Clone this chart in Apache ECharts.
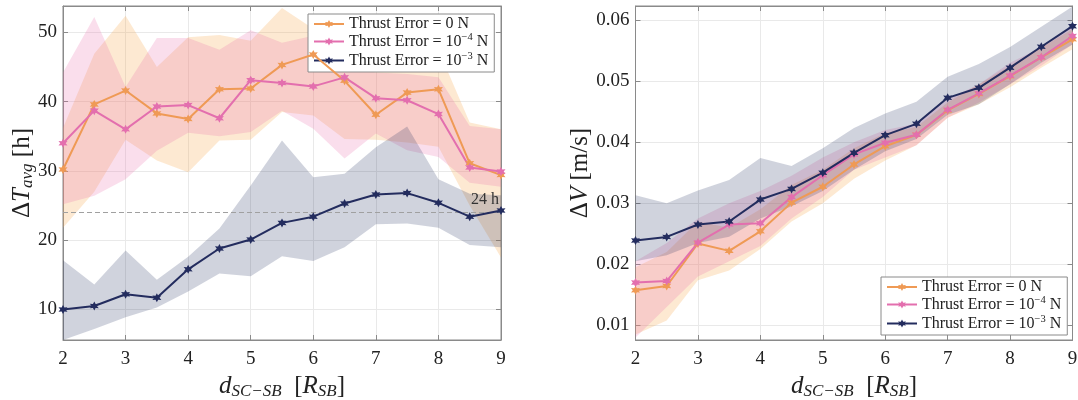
<!DOCTYPE html>
<html>
<head>
<meta charset="utf-8">
<script src="https://cdn.jsdelivr.net/npm/echarts@6/dist/echarts.min.js"></script>
<style>
html,body{margin:0;padding:0;background:#fff;}
#c{width:1078px;height:400px;}
</style>
</head>
<body>
<div id="c"></div>
<script>
// ---------- data ----------
const xs = [2, 2.5, 3, 3.5, 4, 4.5, 5, 5.5, 6, 6.5, 7, 7.5, 8, 8.5, 9];
const seriesNames = ['Thrust Error = 0 N', 'Thrust Error = 1e-4 N', 'Thrust Error = 1e-3 N'];

// Left: Delta T_avg [h]
const dT_0   = [30.2, 39.6, 41.6, 38.3, 37.5, 41.8, 41.9, 45.3, 46.8, 43.0, 38.1, 41.3, 41.8, 31.1, 29.4];
const dT_e4  = [34.0, 38.7, 36.0, 39.3, 39.5, 37.6, 43.1, 42.7, 42.2, 43.5, 40.5, 40.2, 38.2, 30.5, 29.9];
const dT_e3  = [10.0, 10.5, 12.2, 11.7, 15.8, 18.8, 20.1, 22.5, 23.4, 25.3, 26.6, 26.8, 25.4, 23.4, 24.3];
const dT_0_up  = [36.2, 46.9, 52.4, 45.0, 49.3, 49.6, 48.8, 53.5, 50.5, 50.0, 49.0, 48.0, 47.5, 37.0, 36.0];
const dT_0_lo  = [21.8, 27.0, 34.5, 31.5, 29.8, 34.4, 34.5, 38.5, 38.0, 34.6, 34.5, 34.1, 33.5, 25.0, 17.5];
const dT_e4_up = [44.2, 52.2, 42.1, 49.2, 49.2, 47.5, 50.3, 48.5, 49.5, 45.0, 44.2, 44.0, 43.5, 36.5, 36.0];
const dT_e4_lo = [25.2, 26.4, 28.8, 32.9, 35.5, 35.0, 35.6, 38.7, 36.1, 31.8, 35.4, 33.0, 32.0, 28.3, 27.7];
const dT_e3_up = [17.1, 13.6, 18.5, 14.3, 17.6, 21.7, 27.9, 34.4, 29.1, 29.6, 33.4, 36.4, 28.8, 26.7, 26.5];
const dT_e3_lo = [5.6, 7.2, 8.9, 10.3, 12.6, 15.2, 14.8, 17.7, 17.0, 19.0, 22.3, 22.4, 21.8, 19.3, 19.0];
const refLine = 24;

// Right: Delta V [m/s]
const dV_0   = [0.01574, 0.01644, 0.0234, 0.0222, 0.0254, 0.0301, 0.0327, 0.03635, 0.03934, 0.0412, 0.0452, 0.0479, 0.0508, 0.0539, 0.05684];
const dV_e4  = [0.0170, 0.01726, 0.02356, 0.0265, 0.02672, 0.0310, 0.03459, 0.0380, 0.0399, 0.0412, 0.0453, 0.0480, 0.0509, 0.0539, 0.05738];
const dV_e3  = [0.02389, 0.02448, 0.02651, 0.0270, 0.0306, 0.03235, 0.0350, 0.03825, 0.04115, 0.0430, 0.04726, 0.0489, 0.0522, 0.05563, 0.0590];
const dV_0_up  = [0.0195, 0.0220, 0.0270, 0.0260, 0.0290, 0.0330, 0.0355, 0.0390, 0.0415, 0.0425, 0.0465, 0.0495, 0.0525, 0.0555, 0.0585];
const dV_0_lo  = [0.0085, 0.0108, 0.0174, 0.0190, 0.0225, 0.0270, 0.0300, 0.0340, 0.0370, 0.0395, 0.0440, 0.0462, 0.0490, 0.0522, 0.0552];
const dV_e4_up = [0.0205, 0.0235, 0.0275, 0.0300, 0.0320, 0.0345, 0.0375, 0.0400, 0.0420, 0.0430, 0.0470, 0.0495, 0.0530, 0.0555, 0.0590];
const dV_e4_lo = [0.0080, 0.0130, 0.0180, 0.0205, 0.0230, 0.0275, 0.0310, 0.0355, 0.0375, 0.0395, 0.0440, 0.0465, 0.0495, 0.0525, 0.0560];
const dV_e3_up = [0.0313, 0.0300, 0.0321, 0.0338, 0.0374, 0.0361, 0.0390, 0.0423, 0.0447, 0.0466, 0.0507, 0.0528, 0.0556, 0.0589, 0.0622];
const dV_e3_lo = [0.0205, 0.0215, 0.0235, 0.0245, 0.0275, 0.0295, 0.0320, 0.0355, 0.0385, 0.0405, 0.0445, 0.0462, 0.0495, 0.0530, 0.0560];

const xTicks = [2, 3, 4, 5, 6, 7, 8, 9];
const yTicksL = [10, 20, 30, 40, 50];
const yTicksR = [0.01, 0.02, 0.03, 0.04, 0.05, 0.06];

// ---------- style ----------
const FONT = 'Liberation Serif';
const lineColors = ['#ef9a55', '#e36fae', '#232c5e'];
const bandColors = ['rgba(247,170,80,0.26)', 'rgba(230,105,170,0.22)', 'rgba(35,45,95,0.21)'];
const AX = '#8a8a8a';
const star = 'path://M0,-10 L2.6,-4.5 L8.7,-5 L5.2,0 L8.7,5 L2.6,4.5 L0,10 L-2.6,4.5 L-8.7,5 L-5.2,0 L-8.7,-5 L-2.6,-4.5 Z';

const pairs = (ys) => xs.map((x, i) => [x, ys[i]]);

function bandSeries(ax, up, lo, k) {
  return {
    type: 'custom', xAxisIndex: ax, yAxisIndex: ax, silent: true, z: 1, clip: true,
    data: xs.map((x, i) => [x, lo[i], up[i]]),
    encode: { x: 0, y: [1, 2] },
    renderItem: function (params, api) {
      if (params.dataIndex !== 0) return null;
      const pts = [];
      for (let i = 0; i < xs.length; i++) pts.push(api.coord([xs[i], up[i]]));
      for (let i = xs.length - 1; i >= 0; i--) pts.push(api.coord([xs[i], lo[i]]));
      return { type: 'polygon', shape: { points: pts }, style: { fill: bandColors[k] } };
    }
  };
}
function meanSeries(ax, ys, k, extra) {
  return Object.assign({
    name: seriesNames[k] + (ax === 2 ? ' ' : ''), type: 'line', xAxisIndex: ax, yAxisIndex: ax, data: pairs(ys),
    symbol: star, symbolSize: 9, showSymbol: true,
    lineStyle: { color: lineColors[k], width: 2 }, itemStyle: { color: lineColors[k] }, z: 5
  }, extra || {});
}

const rich = {
  n: { fontFamily: FONT, fontSize: 25, lineHeight: 30, color: '#222' },
  i: { fontFamily: FONT, fontSize: 25, lineHeight: 30, fontStyle: 'italic', color: '#222' },
  s: { fontFamily: FONT, fontSize: 17, lineHeight: 18, fontStyle: 'italic', color: '#222', padding: [12, 0, 0, 0] }
};
const legRich = {
  t: { fontFamily: FONT, fontSize: 16, color: '#222', lineHeight: 17.5 },
  p: { fontFamily: FONT, fontSize: 10.5, color: '#222', lineHeight: 11, padding: [0, 0, 8, 0] }
};
const legendFmt = (name) => {
  if (name === seriesNames[1]) return '{t|Thrust Error = 10}{p|−4}{t| N}';
  if (name === seriesNames[2]) return '{t|Thrust Error = 10}{p|−3}{t| N}';
  return '{t|Thrust Error = 0 N}';
};

function xAxes(gi) {
  return [
    { type: 'value', gridIndex: gi, min: 2, max: 9, interval: 1,
      name: '{i|d}{s|SC−SB}{n|  [}{i|R}{s|SB}{n|]}', nameLocation: 'middle', nameGap: 31, nameMoveOverlap: false,
      nameTextStyle: { rich: rich },
      axisLine: { show: true, lineStyle: { color: AX, width: 1 } },
      axisTick: { show: true, inside: true, length: 5, lineStyle: { color: AX } },
      axisLabel: { fontFamily: FONT, fontSize: 19, color: '#222', margin: 10 },
      splitLine: { show: true, lineStyle: { color: '#e9e9e9', width: 1 } } },
    { type: 'value', gridIndex: gi, position: 'top', min: 2, max: 9, interval: 1,
      axisLine: { show: true, lineStyle: { color: AX, width: 1 } },
      axisTick: { show: true, inside: true, length: 5, lineStyle: { color: AX } },
      axisLabel: { show: false }, splitLine: { show: false } }
  ];
}
function yAxes(gi, mn, mx, ticks, nm, fmt, gap) {
  return [
    { type: 'value', gridIndex: gi, min: mn, max: mx, position: 'left',
      name: nm, nameLocation: 'middle', nameRotate: 90, nameGap: gap, nameMoveOverlap: false,
      nameTextStyle: { rich: rich },
      axisLine: { show: true, lineStyle: { color: AX, width: 1 } },
      axisTick: { show: true, inside: true, length: 5, customValues: ticks, lineStyle: { color: AX } },
      axisLabel: { fontFamily: FONT, fontSize: 19, color: '#222', margin: 6, customValues: ticks, formatter: fmt },
      splitLine: { show: true, lineStyle: { color: '#e9e9e9', width: 1 } } },
    { type: 'value', gridIndex: gi, min: mn, max: mx, position: 'right',
      axisLine: { show: true, lineStyle: { color: AX, width: 1 } },
      axisTick: { show: true, inside: true, length: 5, customValues: ticks, lineStyle: { color: AX } },
      axisLabel: { show: false, customValues: ticks }, splitLine: { show: false } }
  ];
}

const xa = xAxes(0).concat(xAxes(1));
const ya = yAxes(0, 5.6, 53.8, yTicksL, '{n|Δ}{i|T}{s|avg}{n| [h]}', (v) => String(v), 26)
  .concat(yAxes(1, 0.0076, 0.0623, yTicksR, '{n|Δ}{i|V}{n| [m/s]}', (v) => v.toFixed(2), 40));

const series = [
  bandSeries(0, dT_0_up, dT_0_lo, 0),
  bandSeries(0, dT_e4_up, dT_e4_lo, 1),
  bandSeries(0, dT_e3_up, dT_e3_lo, 2),
  meanSeries(0, dT_0, 0),
  meanSeries(0, dT_e4, 1),
  meanSeries(0, dT_e3, 2, {
    markLine: { silent: true, symbol: 'none', animation: false,
      lineStyle: { color: '#a0a0a0', type: [5, 3], width: 1 },
      label: { show: true, position: 'insideEndTop', formatter: '24 h', fontFamily: FONT, fontSize: 16, color: '#333', distance: [2, 5] },
      data: [{ yAxis: refLine }] }
  }),
  bandSeries(2, dV_0_up, dV_0_lo, 0),
  bandSeries(2, dV_e4_up, dV_e4_lo, 1),
  bandSeries(2, dV_e3_up, dV_e3_lo, 2),
  meanSeries(2, dV_0, 0),
  meanSeries(2, dV_e4, 1),
  meanSeries(2, dV_e3, 2)
];

const legendBase = {
  orient: 'vertical', backgroundColor: '#fff', borderColor: '#8a8a8a', borderWidth: 1,
  padding: [2, 6, 2, 5], itemGap: 0, itemWidth: 30, itemHeight: 10, borderRadius: 0,
  textStyle: { rich: legRich }, formatter: (n) => legendFmt(n.trim())
};

const option = {
  animation: false,
  backgroundColor: '#fff',
  grid: [
    { left: 63, right: 577, top: 6, bottom: 60, show: true, borderColor: AX, borderWidth: 1, backgroundColor: 'transparent', outerBoundsMode: 'none', containLabel: false },
    { left: 635.5, right: 5.5, top: 6, bottom: 60, show: true, borderColor: AX, borderWidth: 1, backgroundColor: 'transparent', outerBoundsMode: 'none', containLabel: false }
  ],
  legend: [
    Object.assign({}, legendBase, { data: seriesNames, left: 308, top: 14 }),
    Object.assign({}, legendBase, { data: seriesNames.map(n => n + ' '), left: 881, top: 277 })
  ],
  xAxis: xa,
  yAxis: ya,
  series: series
};

const chart = echarts.init(document.getElementById('c'), null, { renderer: 'canvas' });
chart.setOption(option);
</script>
</body>
</html>
